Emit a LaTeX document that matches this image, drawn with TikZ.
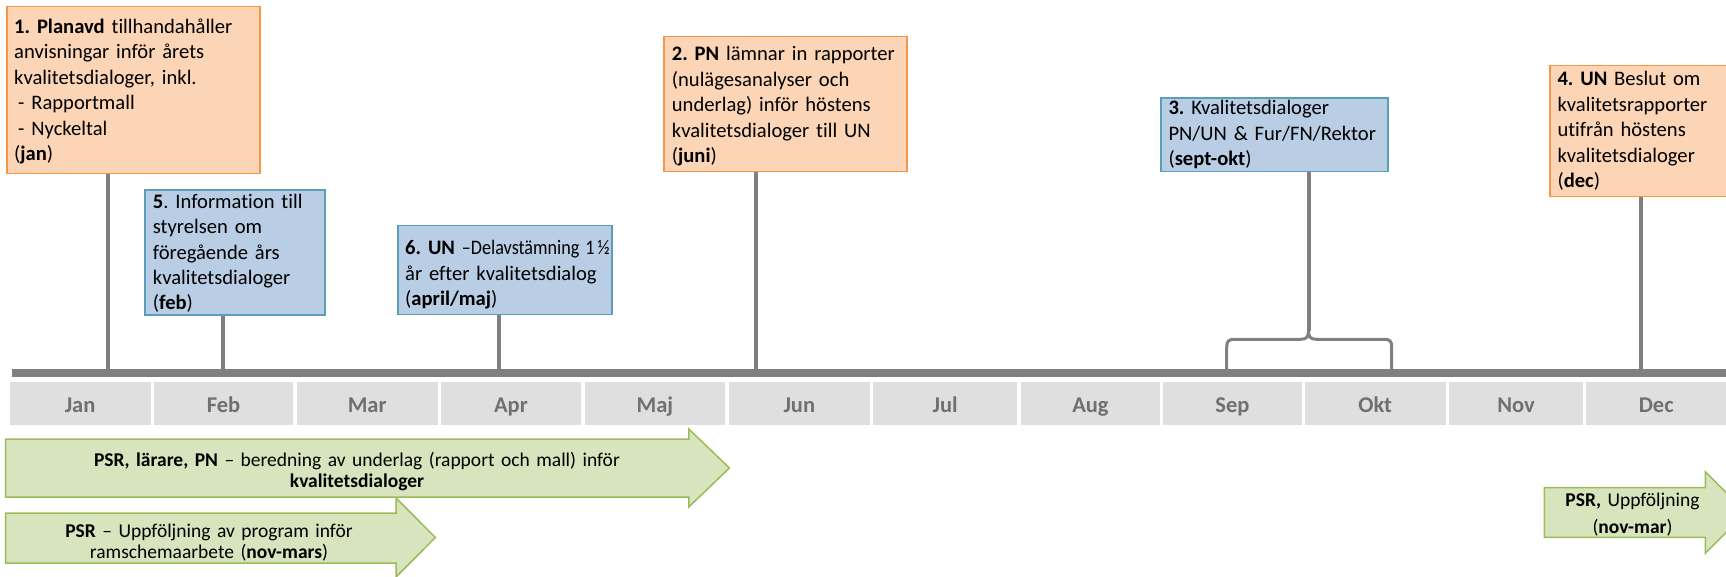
\documentclass[tikz,border=0pt]{standalone}
\usepackage{fontspec}
\setmainfont{Carlito}[Ligatures=NoCommon]
\frenchspacing
\definecolor{orfill}{HTML}{FBD5B5}
\definecolor{ordraw}{HTML}{F79646}
\definecolor{blfill}{HTML}{B9CDE5}
\definecolor{bldraw}{HTML}{5B9EB8}
\definecolor{grfill}{HTML}{D7E4BD}
\definecolor{grdraw}{HTML}{9BBB59}
\definecolor{bargray}{HTML}{808080}
\definecolor{cellgray}{HTML}{DFDFDF}
\definecolor{monthtxt}{HTML}{707070}
\begin{document}
\begin{tikzpicture}[x=1pt,y=-1pt,
  box/.style={inner sep=0pt, anchor=north west, line width=1.5pt},
  obox/.style={box, fill=orfill, draw=ordraw},
  bbox/.style={box, fill=blfill, draw=bldraw},
  txt/.style={anchor=base west, inner sep=0pt, text width=320pt, align=left,
              font=\fontsize{20.6}{25.4}\selectfont},
  conn/.style={draw=bargray, line width=4pt},
  month/.style={fill=cellgray, inner sep=0pt, anchor=north west, minimum height=43pt,
                text height=23.4pt, text depth=5pt, text=monthtxt,
                font=\fontsize{22.5}{27}\selectfont\bfseries},
  garrow/.style={fill=grfill, draw=grdraw, line width=1.5pt, line join=miter},
  gtxt/.style={anchor=base, inner sep=0pt, text width=700pt, align=center}
]
\useasboundingbox (0,0) rectangle (1726,577);
\clip (0,0) rectangle (1726,577);

% month cells
\foreach \a/\b/\n [count=\i] in {9.3/150.5/Jan, 153.5/293/Feb, 296.5/437.5/Mar,
   440.5/581/Apr, 584.5/725/Maj, 728.5/869.7/Jun, 873/1017/Jul, 1020.5/1160/Aug,
   1163/1301.5/Sep, 1304.6/1445.3/Okt, 1449/1582.7/Nov, 1585.3/1726.7/Dec}
  \node[month, minimum width={\b pt-\a pt}] (m\i) at (\a,382) {\n};

% boxes
\node[obox, minimum width=253pt, minimum height=167pt] (b1) at (6,6) {};
\node[bbox, minimum width=180pt, minimum height=124.7pt] (b5) at (144,189.3) {};
\node[bbox, minimum width=214pt, minimum height=88.5pt] (b6) at (397,225) {};
\node[obox, minimum width=242.7pt, minimum height=135pt] (b2) at (663.3,36) {};
\node[bbox, minimum width=227pt, minimum height=73.4pt] (b3) at (1160.3,97.3) {};
\node[obox, minimum width=200pt, minimum height=130.7pt] (b4) at (1549,65) {};

% coordinates on the bar
\coordinate (barL) at (11.7,373.3);
\coordinate (barR) at (1730,373.3);
\coordinate (l1) at (107.7,373);
\coordinate (l5) at (223.3,373);
\coordinate (l6) at (498.5,373);
\coordinate (l2) at (755.7,373);
\coordinate (l4) at (1640.7,373);
\coordinate (tip) at (1308.5,331);

% connectors
\draw[conn] (b1.south -| l1) -- (l1);
\draw[conn] (b5.south -| l5) -- (l5);
\draw[conn] (b6.south -| l6) -- (l6);
\draw[conn] (b2.south -| l2) -- (l2);
\draw[conn] (b3.south -| tip) -- (tip);
\draw[conn] (b4.south -| l4) -- (l4);

% brace
\draw[bargray, line width=3pt, line join=round]
  (1226.7,372) -- (1226.7,347.3) .. controls (1226.7,341) and (1228.5,339.3) .. (1234.7,339.3)
  -- (1300.5,339.3) .. controls (1306.5,339.3) and (1308.5,337) .. (tip.center)
  .. controls (1308.5,337) and (1310.5,339.3) .. (1316.5,339.3)
  -- (1383.7,339.3) .. controls (1390,339.3) and (1391.7,341) .. (1391.7,347.3) -- (1391.7,372);

% bar
\draw[bargray, line width=8pt] (barL) -- (barR);

% box texts
\node[txt] (t1) at (14,33.5) {\textbf{1. Planavd} tillhandahåller\\anvisningar inför årets\\kvalitetsdialoger, inkl.\\\hspace*{4pt}- Rapportmall\\\hspace*{4pt}- Nyckeltal\\(\textbf{jan})};
\node[txt] (t5) at (152.7,208.3) {\textbf{5}. Information till\\styrelsen om\\föregående års\\kvalitetsdialoger\\(\textbf{feb})};
\node[txt] (t6) at (405,255) {\textbf{6. UN} \scalebox{0.88}[1]{–Delavstämning 1\,½}\\år efter kvalitetsdialog\\(\textbf{april/maj})};
\node[txt] (t2) at (671.7,61) {\textbf{2. PN} lämnar in rapporter\\(nulägesanalyser och\\underlag) inför höstens\\kvalitetsdialoger till UN\\(\textbf{juni})};
\node[txt] (t3) at (1168.3,115) {\textbf{3.} Kvalitetsdialoger\\PN/UN \& Fur/FN/Rektor\\(\textbf{sept-okt})};
\node[txt] (t4) at (1557.3,86) {\textbf{4. UN} Beslut om\\kvalitetsrapporter\\utifrån höstens\\kvalitetsdialoger\\(\textbf{dec})};

% green arrows
\draw[garrow] (5.7,439) -- (688.8,439) -- (688.8,429) -- (729.4,468) -- (688.8,507)
  -- (688.8,497) -- (5.7,497) -- cycle;
\node[gtxt, font=\fontsize{19.5}{21.5}\selectfont] (ga) at (357,466)
  {\textbf{PSR, lärare, PN} – beredning av underlag (rapport och mall) inför\\\textbf{kvalitetsdialoger}};

\draw[garrow] (5.7,513) -- (396,513) -- (396,498) -- (435.4,537.5) -- (396,577)
  -- (396,563) -- (5.7,563) -- cycle;
\node[gtxt, font=\fontsize{19.5}{21}\selectfont] (gb) at (209,537.5)
  {\textbf{PSR} – Uppföljning av program inför\\ramschemaarbete (\textbf{nov-mars})};

\draw[garrow] (1544.3,487.7) -- (1705.3,487.7) -- (1705.3,471.7) -- (1746,512.5)
  -- (1705.3,553.3) -- (1705.3,537.3) -- (1544.3,537.3) -- cycle;
\node[gtxt, font=\fontsize{19.5}{26.6}\selectfont] (gc) at (1632.5,506.7)
  {\textbf{PSR,} Uppföljning\\(\textbf{nov-mar})};
\end{tikzpicture}
\end{document}
